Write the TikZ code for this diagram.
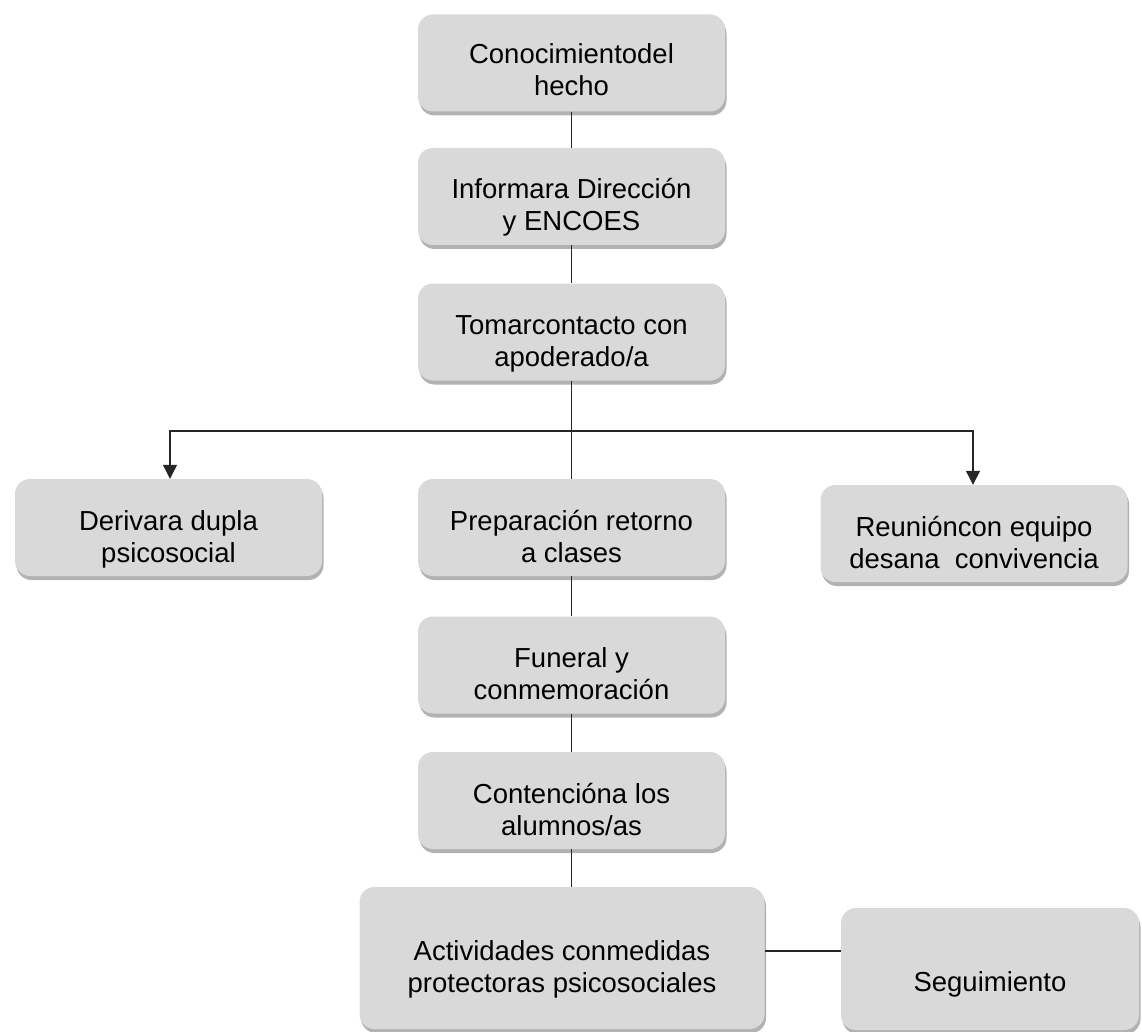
\documentclass[tikz,border=0pt]{standalone}
\usepackage{fontspec}
\setmainfont{Liberation Sans}
\usetikzlibrary{arrows.meta,shadows}
% Box label: centred lines whose first baseline sits #1 below the box centre
\newcommand{\boxlabel}[2][2.5pt]{%
  \raisebox{0pt}[45pt][\dimexpr 45pt-#1-#1\relax]{\begin{tabular}[t]{@{}c@{}}#2\end{tabular}}}
\begin{document}
\begin{tikzpicture}[x=1pt,y=-1pt,
  stepbox/.style={fill=black!15, rounded corners=15pt, inner sep=0pt,
    minimum width=307pt, minimum height=97pt,
    font=\fontsize{27.5}{32}\selectfont,
    drop shadow={shadow xshift=1.5pt, shadow yshift=-4pt, fill=black!55, opacity=0.55}},
  link/.style={draw=black!85, line width=1.2pt},
  arrowlink/.style={link, -{Triangle[width=14pt,length=14pt]}}]
\useasboundingbox (0,0) rectangle (1142,1032);

\node[stepbox] (know) at (571.5,63) {\boxlabel[0.5pt]{Conocimientodel\\hecho}};
\node[stepbox] (inform) at (571.5,196.5) {\boxlabel{Informara Dirección\\y ENCOES}};
\node[stepbox] (contact) at (571.5,332) {\boxlabel{Tomarcontacto con\\apoderado/a}};
\node[stepbox] (refer) at (168.5,527.5) {\boxlabel{Derivara dupla\\psicosocial}};
\node[stepbox] (prep) at (571.5,527.5) {\boxlabel{Preparación retorno\\a clases}};
\node[stepbox] (meet) at (974,533.5) {\boxlabel{Reunióncon equipo\\desana\ \ convivencia}};
\node[stepbox] (funeral) at (571.5,665) {\boxlabel{Funeral y\\conmemoración}};
\node[stepbox] (contain) at (571.5,800.5) {\boxlabel{Contencióna los\\alumnos/as}};
\node[stepbox, minimum width=405pt, minimum height=142pt] (acts) at (562,958)
  {\boxlabel[2pt]{Actividades conmedidas\\protectoras psicosociales}};
\node[stepbox, minimum width=298pt, minimum height=122pt] (follow) at (990,969)
  {\boxlabel[23pt]{Seguimiento}};

\coordinate (split) at (571.5,431);
\draw[link] (know) -- (inform);
\draw[link] (inform) -- (contact);
\draw[link] (contact) -- (prep);
\draw[arrowlink] (split) -| (refer.north -| 170,0);
\draw[arrowlink] (split) -| (meet.north -| 973,0);
\draw[link] (prep) -- (funeral);
\draw[link] (funeral) -- (contain);
\draw[link] (contain) -- (contain.south |- acts.north);
\draw[link] (acts.east |- 0,951) -- (follow.west |- 0,951);
\end{tikzpicture}
\end{document}
